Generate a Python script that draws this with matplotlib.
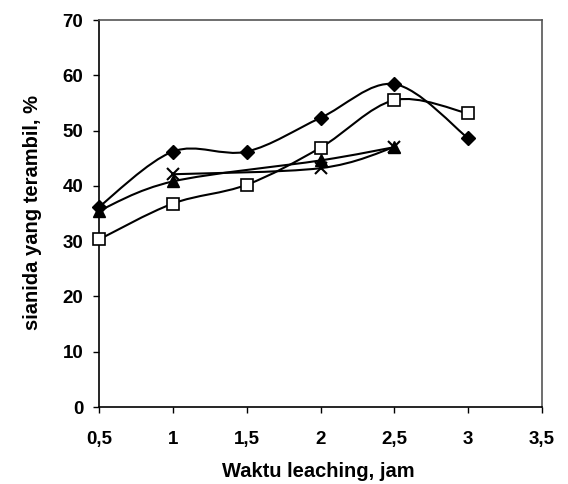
import numpy as np
import matplotlib
matplotlib.use("Agg")
import matplotlib.pyplot as plt
from matplotlib.path import Path
from matplotlib.patches import PathPatch

plt.rcParams['font.family'] = ['Liberation Sans', 'DejaVu Sans']

# Data
x_diamond = [0.5, 1, 1.5, 2, 2.5, 3]
y_diamond = [36.2, 46.2, 46.2, 52.3, 58.4, 48.6]
x_square = [0.5, 1, 1.5, 2, 2.5, 3]
y_square = [30.3, 36.8, 40.2, 46.9, 55.5, 53.1]
x_triangle = [0.5, 1, 2, 2.5]
y_triangle = [35.5, 40.8, 44.6, 47.0]
x_cross = [1, 2, 2.5]
y_cross = [42.1, 43.2, 47.0]

xticks = [0.5, 1, 1.5, 2, 2.5, 3, 3.5]
xticklabels = ['0,5', '1', '1,5', '2', '2,5', '3', '3,5']
yticks = [0, 10, 20, 30, 40, 50, 60, 70]

W, H = 568, 484
fig = plt.figure(figsize=(W / 100, H / 100), dpi=100)
ax = fig.add_axes([99 / W, (H - 407) / H, 443 / W, 387 / H])


def smooth_path(xs, ys, t=1/6):
    xs = np.asarray(xs, float)
    ys = np.asarray(ys, float)
    n = len(xs)
    verts = [(xs[0], ys[0])]
    codes = [Path.MOVETO]
    for i in range(n - 1):
        p0 = np.array([xs[max(i - 1, 0)], ys[max(i - 1, 0)]])
        p1 = np.array([xs[i], ys[i]])
        p2 = np.array([xs[i + 1], ys[i + 1]])
        p3 = np.array([xs[min(i + 2, n - 1)], ys[min(i + 2, n - 1)]])
        c1 = p1 + (p2 - p0) * t
        c2 = p2 - (p3 - p1) * t
        verts += [tuple(c1), tuple(c2), tuple(p2)]
        codes += [Path.CURVE4] * 3
    return Path(verts, codes)


series = [
    (x_diamond, y_diamond, dict(marker='D', markersize=7.5, mfc='black', mec='black')),
    (x_square, y_square, dict(marker='s', markersize=8, mfc='white', mec='black', mew=1.2)),
    (x_triangle, y_triangle, dict(marker='^', markersize=8.5, mfc='black', mec='black')),
    (x_cross, y_cross, dict(marker='x', markersize=9, mfc='black', mec='black', mew=1.5)),
]

for xs, ys, mk in series:
    patch = PathPatch(smooth_path(xs, ys), facecolor='none', edgecolor='black',
                      lw=1.5, zorder=2)
    ax.add_patch(patch)
    ax.plot(xs, ys, linestyle='none', zorder=3, clip_on=False, **mk)

ax.set_xlim(0.5, 3.5)
ax.set_ylim(0, 70)
ax.set_xticks(xticks)
ax.set_xticklabels(xticklabels)
ax.set_yticks(yticks)
ax.tick_params(axis='both', direction='out', length=4.3, width=1, labelsize=13.5)
ax.tick_params(axis='y', pad=7)
ax.tick_params(axis='x', pad=13)
for lab in ax.get_xticklabels() + ax.get_yticklabels():
    lab.set_fontweight('bold')

for s in ['left', 'bottom']:
    ax.spines[s].set_color('black')
    ax.spines[s].set_linewidth(1.2)
for s in ['top', 'right']:
    ax.spines[s].set_color('#555555')
    ax.spines[s].set_linewidth(1.2)

fig.text(318 / W, (H - 477) / H, 'Waktu leaching, jam', fontsize=14.5,
         fontweight='bold', ha='center', va='baseline')
fig.text(33 / W, (H - 213) / H, 'sianida yang terambil, %', fontsize=14.5,
         fontweight='bold', ha='center', va='center', rotation=90)

fig.savefig('out.png', dpi=100)
